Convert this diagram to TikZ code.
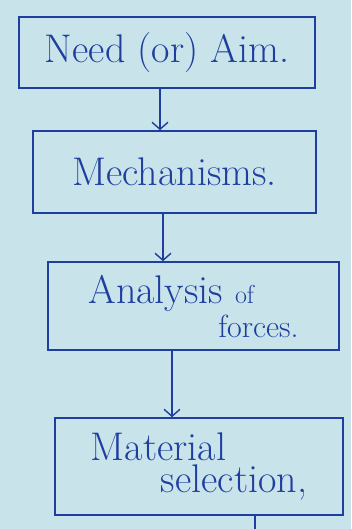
\documentclass[tikz,border=0pt]{standalone}
\usepackage{tikz}
\usetikzlibrary{arrows,arrows.meta,calc}
\definecolor{ink}{RGB}{30,62,160}
\definecolor{paper}{RGB}{200,228,234}
\tikzset{stagebox/.style={draw=ink, color=ink, line width=1.6pt, inner sep=4pt, font=\fontsize{40}{42}\selectfont}}
\tikzset{flow/.style={-{Straight Barb[length=7pt,width=16pt]}, draw=ink, line width=1.4pt}}

\begin{document}
\begin{tikzpicture}[x=1pt,y=-1pt]
          \fill[paper] (0,0) rectangle (351,529);
          \useasboundingbox (0,0) rectangle (351,529);
          \node[stagebox, minimum width=296pt, minimum height=71pt] (Need) at (167,52.5) {Need (or) Aim.};
          \node[stagebox, minimum width=283pt, minimum height=82pt] (Mechanisms) at (174.5,172) {Mechanisms.};
          \node[stagebox, minimum width=291pt, minimum height=88pt, align=left] (Analysis) at (193.5,306) {Analysis {\fontsize{26}{26}\selectfont of}\\[-8pt]\hspace*{130pt}{\fontsize{32}{32}\selectfont forces.}};
          \node[stagebox, minimum width=288pt, minimum height=97pt, align=left] (Material) at (199,466.5) {Material\\[-10pt]\hspace*{70pt}selection,};
          \coordinate (Next) at (255,529);

          \draw[flow] ([xshift=-7pt]Need.south) to ([xshift=-7pt]Need.south |- Mechanisms.north);
          \draw[flow] ([xshift=-11.5pt]Mechanisms.south) to ([xshift=-11.5pt]Mechanisms.south |- Analysis.north);
          \draw[flow] ([xshift=-21.5pt]Analysis.south) to ([xshift=-21.5pt]Analysis.south |- Material.north);
          \draw[draw=ink, line width=1.4pt] (Material.south -| Next) to (Next);
        \end{tikzpicture}
\end{document}
